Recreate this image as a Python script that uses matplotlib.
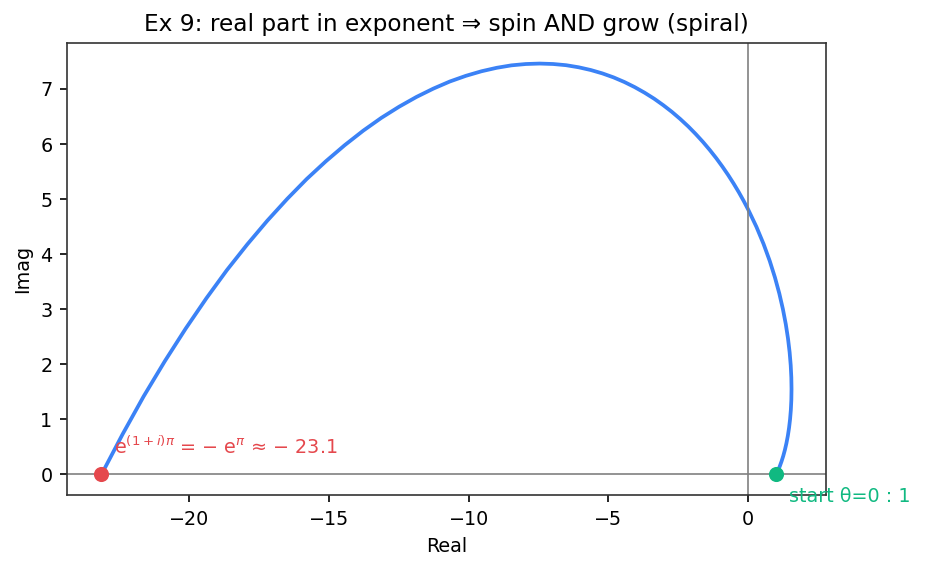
import matplotlib
matplotlib.use("Agg")
import matplotlib.pyplot as plt

# ============================================================
# DATA  (points of the spiral)
# ============================================================

real_part = [
    1.0000, 1.0653, 1.1301, 1.1936, 1.2550, 1.3136, 1.3683, 1.4181,
    1.4619, 1.4986, 1.5266, 1.5446, 1.5509, 1.5440, 1.5219, 1.4830,
    1.4249, 1.3457, 1.2430, 1.1148, 0.9583, 0.7712, 0.5509, 0.2947,
    0.0000, -0.1626, -0.3359, -0.5202, -0.7157, -0.9229, -1.1422, -1.3734,
    -1.6177, -1.8746, -2.1452, -2.4287, -2.7264, -3.0381, -3.3645, -3.7047,
    -4.0603, -4.4306, -4.8173, -5.2178, -5.6349, -6.0673, -6.5168, -6.9801,
    -7.4605, -7.9566, -8.4702, -8.9971, -9.5408, -10.1013, -10.6775, -11.2665,
    -11.8715, -12.4915, -13.1282, -13.7737, -14.4356, -15.1102, -15.7996, -16.4947,
    -17.2032, -17.9221, -18.6533, -19.3850, -20.1262, -20.8753, -21.6323, -22.3831,
    -23.1407,
]

imag_part = [
    0.0000, 0.0698, 0.1488, 0.2374, 0.3363, 0.4459, 0.5668, 0.6993,
    0.8441, 1.0013, 1.1714, 1.3546, 1.5509, 1.7606, 1.9834, 2.2194,
    2.4679, 2.7288, 3.0009, 3.2841, 3.5764, 3.8773, 4.1843, 4.4965,
    4.8105, 4.9678, 5.1253, 5.2811, 5.4365, 5.5899, 5.7422, 5.8908,
    6.0374, 6.1798, 6.3194, 6.4528, 6.5822, 6.7049, 6.8225, 6.9310,
    7.0326, 7.1256, 7.2096, 7.2820, 7.3435, 7.3931, 7.4309, 7.4525,
    7.4605, 7.4522, 7.4282, 7.3837, 7.3210, 7.2379, 7.1345, 7.0055,
    6.8540, 6.6769, 6.4741, 6.2424, 5.9794, 5.6870, 5.3633, 5.0035,
    4.6096, 4.1784, 3.7103, 3.2004, 2.6498, 2.0561, 1.4178, 0.7328,
    0.0000,
]

start_point = (1.0, 0.0)
end_point = (-23.1407, 0.0)

start_label = "start θ=0 : 1"
end_label = "e$^{(1+i)\\pi}$ = − e$^{\\pi}$ ≈ − 23.1"

# ============================================================
# STYLE
# ============================================================

BLUE = "#3b82f6"
RED = "#e5484d"
GREEN = "#10b981"

plt.rcParams["axes.edgecolor"] = "#333333"

# ============================================================
# PLOT
# ============================================================

fig, ax = plt.subplots(figsize=(925 / 150, 569 / 150), dpi=150)
fig.subplots_adjust(left=0.0724, right=0.893, top=0.9244, bottom=0.130)

ax.plot(real_part, imag_part, color=BLUE, linewidth=1.8,
        solid_joinstyle="round")

ax.axhline(0, color="gray", linewidth=0.8)
ax.axvline(0, color="gray", linewidth=0.8)

ax.scatter([start_point[0]], [start_point[1]], color=GREEN, s=39, zorder=5)
ax.scatter([end_point[0]], [end_point[1]], color=RED, s=39, zorder=5)

ax.annotate(start_label, start_point, xytext=(6, -13), textcoords="offset points",
            color=GREEN, fontsize=9.2)
ax.annotate(end_label, end_point, xytext=(6, 10), textcoords="offset points",
            color=RED, fontsize=9.2)

ax.set_title("Ex 9: real part in exponent ⇒ spin AND grow (spiral)", fontsize=11.2)
ax.set_xlabel("Real", fontsize=9.2)
ax.set_ylabel("Imag", fontsize=9.2)
ax.tick_params(labelsize=9.2)

fig.savefig("out.png", dpi=150)
